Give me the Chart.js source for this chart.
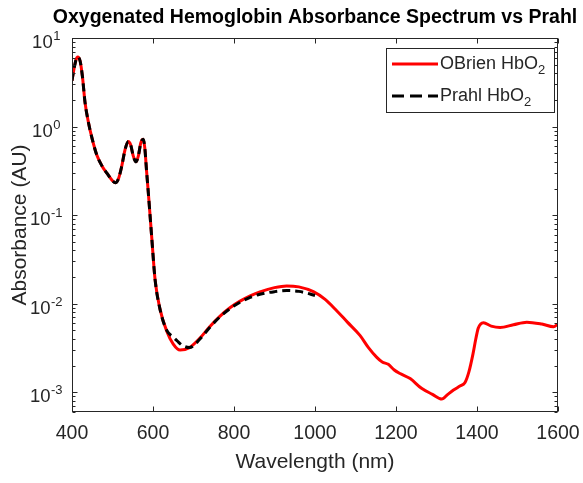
<!DOCTYPE html>
<html>
<head>
<meta charset="utf-8">
<title>Oxygenated Hemoglobin Absorbance Spectrum vs Prahl</title>
<script src="https://cdn.jsdelivr.net/npm/chart.js@4.4.0/dist/chart.umd.min.js"></script>
<style>
  html, body { margin: 0; padding: 0; background: #fff; }
  canvas { display: block; }
</style>
</head>
<body>
<canvas id="spectrum" width="583" height="483"></canvas>
<script>
const FONT = '"Liberation Sans", Arial, Helvetica, sans-serif';
const TEXT = '#262626';
const TITLE = 'Oxygenated Hemoglobin Absorbance Spectrum vs Prahl';

// OBrien HbO2
const obrienWl = [400, 405, 410, 414, 420, 426, 432, 440, 450, 461, 474, 488, 500, 507, 515, 523, 531, 539, 545, 551,
  558, 564, 570, 576, 580, 584, 588, 592, 597, 605, 617, 634, 650, 667, 690, 716, 740, 765, 790, 815, 840, 864, 900,
  930, 960, 996, 1025, 1053, 1080, 1111, 1132, 1152, 1166, 1181, 1195, 1210, 1235, 1263, 1290, 1313, 1328, 1342, 1358,
  1370, 1380, 1390, 1397, 1403, 1409, 1416, 1435, 1457, 1490, 1523, 1560, 1589, 1600];
const obrienAbs = [3.3, 4.5, 5.7, 6.1, 5.5, 3.6, 1.9, 1.15, 0.72, 0.48, 0.36, 0.29, 0.245, 0.232, 0.26, 0.36, 0.55, 0.68, 0.62, 0.47,
  0.40, 0.47, 0.66, 0.72, 0.56, 0.32, 0.19, 0.11, 0.055, 0.019, 0.0088, 0.0049, 0.0035, 0.0030, 0.0032, 0.0041, 0.0055, 0.0072, 0.0090, 0.0107, 0.0123, 0.0136, 0.0152,
  0.0159, 0.0155, 0.0137, 0.0112, 0.0084, 0.0062, 0.0044, 0.0032, 0.0025, 0.0022, 0.00207, 0.0018, 0.00163, 0.00143, 0.00111, 0.00095, 0.00084, 0.00095, 0.00106, 0.00118,
  0.00128, 0.0017, 0.0027, 0.0040, 0.0053, 0.0059, 0.0061, 0.0056, 0.0054, 0.0058, 0.0062, 0.0059, 0.0055, 0.0059];

// Prahl HbO2
const prahlWl = [400, 405, 410, 414, 420, 426, 432, 440, 450, 461, 474, 488, 500, 507, 515, 523, 531, 539, 545, 551,
  558, 564, 570, 576, 580, 584, 588, 592, 597, 605, 617, 634, 650, 660, 672, 690, 716, 740, 765, 790, 815, 840, 864,
  900, 930, 960, 988, 1000];
const prahlAbs = [3.3, 4.5, 5.7, 6.1, 5.5, 3.6, 1.9, 1.15, 0.72, 0.48, 0.36, 0.29, 0.245, 0.232, 0.26, 0.36, 0.55, 0.68, 0.62, 0.47,
  0.40, 0.47, 0.66, 0.72, 0.56, 0.32, 0.19, 0.11, 0.055, 0.019, 0.0088, 0.0050, 0.0042, 0.0038, 0.0034, 0.0032, 0.0040, 0.0054, 0.0071, 0.0088, 0.0104, 0.0118, 0.0128,
  0.0137, 0.0141, 0.0138, 0.0129, 0.0124];

const xTicks = [400, 600, 800, 1000, 1200, 1400, 1600];
const yExponents = [-3, -2, -1, 0, 1];

function toPoints(xs, ys) {
  return xs.map((x, i) => ({ x: x, y: ys[i] }));
}

// box, inward ticks, superscript y labels, titles and the legend, MATLAB style
const matlabAxes = {
  id: 'matlabAxes',
  afterDraw(chart) {
    const { ctx, chartArea: a, scales } = chart;
    const xs = scales.x, ys = scales.y;
    ctx.save();
    ctx.strokeStyle = TEXT;
    ctx.lineWidth = 1;
    const L = Math.round(a.left) + 0.5, R = Math.round(a.right) - 0.5;
    const T = Math.round(a.top) + 0.5, B = Math.round(a.bottom) - 0.5;
    ctx.strokeRect(L, T, R - L, B - T);

    ctx.beginPath();
    xTicks.forEach(v => {
      const px = Math.round(xs.getPixelForValue(v)) + 0.5;
      ctx.moveTo(px, B); ctx.lineTo(px, B - 5);
      ctx.moveTo(px, T); ctx.lineTo(px, T + 5);
    });
    for (let e = -4; e <= 1; e++) {
      for (let m = 1; m <= 9; m++) {
        const v = m * Math.pow(10, e);
        if (v < ys.min || v > ys.max) continue;
        const py = Math.round(ys.getPixelForValue(v)) + 0.5;
        const len = m === 1 ? 5 : 3;
        ctx.moveTo(L, py); ctx.lineTo(L + len, py);
        ctx.moveTo(R, py); ctx.lineTo(R - len, py);
      }
    }
    ctx.stroke();

    // y tick labels 10^n
    ctx.fillStyle = TEXT;
    ctx.textBaseline = 'alphabetic';
    ctx.textAlign = 'left';
    yExponents.forEach(e => {
      const py = ys.getPixelForValue(Math.pow(10, e));
      const exp = String(e);
      ctx.font = '13px ' + FONT;
      const ew = ctx.measureText(exp).width;
      ctx.font = '18.5px ' + FONT;
      const bw = ctx.measureText('10').width;
      const cx = a.left - 26;
      const left = cx - (bw + ew) / 2;
      ctx.fillText('10', left, py + 10);
      ctx.font = '13px ' + FONT;
      ctx.fillText(exp, left + bw + 0.5, py + 2);
    });

    // titles
    ctx.textAlign = 'center';
    ctx.textBaseline = 'middle';
    ctx.fillStyle = '#000';
    ctx.font = 'bold 19.5px ' + FONT;
    ctx.fillText(TITLE, (a.left + a.right) / 2, 18);
    ctx.fillStyle = TEXT;
    ctx.font = '21px ' + FONT;
    ctx.fillText('Wavelength (nm)', (a.left + a.right) / 2, 462);
    ctx.save();
    ctx.translate(20, (a.top + a.bottom) / 2);
    ctx.rotate(-Math.PI / 2);
    ctx.fillText('Absorbance (AU)', 0, 0);
    ctx.restore();

    // legend
    const bx = { left: a.right - 172, top: a.top + 10, right: a.right - 4, bottom: a.top + 74 };
    ctx.fillStyle = '#fff';
    ctx.fillRect(bx.left, bx.top, bx.right - bx.left, bx.bottom - bx.top);
    ctx.strokeRect(Math.round(bx.left) + 0.5, Math.round(bx.top) + 0.5, bx.right - bx.left, bx.bottom - bx.top);
    chart.data.datasets.forEach((ds, i) => {
      const ry = bx.top + 16 + i * 32;
      ctx.beginPath();
      ctx.strokeStyle = ds.borderColor;
      ctx.lineWidth = ds.borderWidth;
      ctx.setLineDash(ds.borderDash ? [12, 6] : []);
      ctx.moveTo(bx.left + 6, ry);
      ctx.lineTo(bx.left + 52, ry);
      ctx.stroke();
      ctx.setLineDash([]);
      ctx.fillStyle = TEXT;
      ctx.textBaseline = 'middle';
      ctx.textAlign = 'left';
      const base = ds.label.slice(0, -1);
      const sub = ds.label.slice(-1);
      ctx.font = '18px ' + FONT;
      ctx.fillText(base, bx.left + 54, ry);
      const w = ctx.measureText(base).width;
      ctx.font = '13px ' + FONT;
      ctx.fillText(sub, bx.left + 54 + w, ry + 6);
    });
    ctx.restore();
  }
};

new Chart(document.getElementById('spectrum'), {
  type: 'line',
  data: {
    datasets: [
      {
        label: 'OBrien HbO2',
        data: toPoints(obrienWl, obrienAbs),
        borderColor: '#ff0000',
        borderWidth: 3,
        pointRadius: 0,
        cubicInterpolationMode: 'monotone',
        order: 1
      },
      {
        label: 'Prahl HbO2',
        data: toPoints(prahlWl, prahlAbs),
        borderColor: '#000000',
        borderWidth: 3,
        borderDash: [8, 5],
        pointRadius: 0,
        cubicInterpolationMode: 'monotone',
        order: 0
      }
    ]
  },
  options: {
    responsive: false,
    animation: false,
    layout: { padding: { left: 72, right: 25, top: 38, bottom: 27.6 } },
    plugins: {
      legend: { display: false },
      tooltip: { enabled: false },
      title: { display: false }
    },
    scales: {
      x: {
        type: 'linear',
        min: 400,
        max: 1600,
        grid: { display: false, drawTicks: false },
        border: { display: false },
        afterFit: scale => {
          // let the layout padding alone place the plot box
          scale.paddingLeft = 0;
          scale.paddingRight = 0;
        },
        ticks: {
          stepSize: 200,
          autoSkip: false,
          maxRotation: 0,
          padding: 10,
          color: TEXT,
          font: { family: FONT, size: 19.5 },
          callback: v => String(v)
        }
      },
      y: {
        type: 'logarithmic',
        display: false,
        min: 6.2e-4,
        max: 10
      }
    }
  },
  plugins: [matlabAxes]
});
</script>
</body>
</html>
